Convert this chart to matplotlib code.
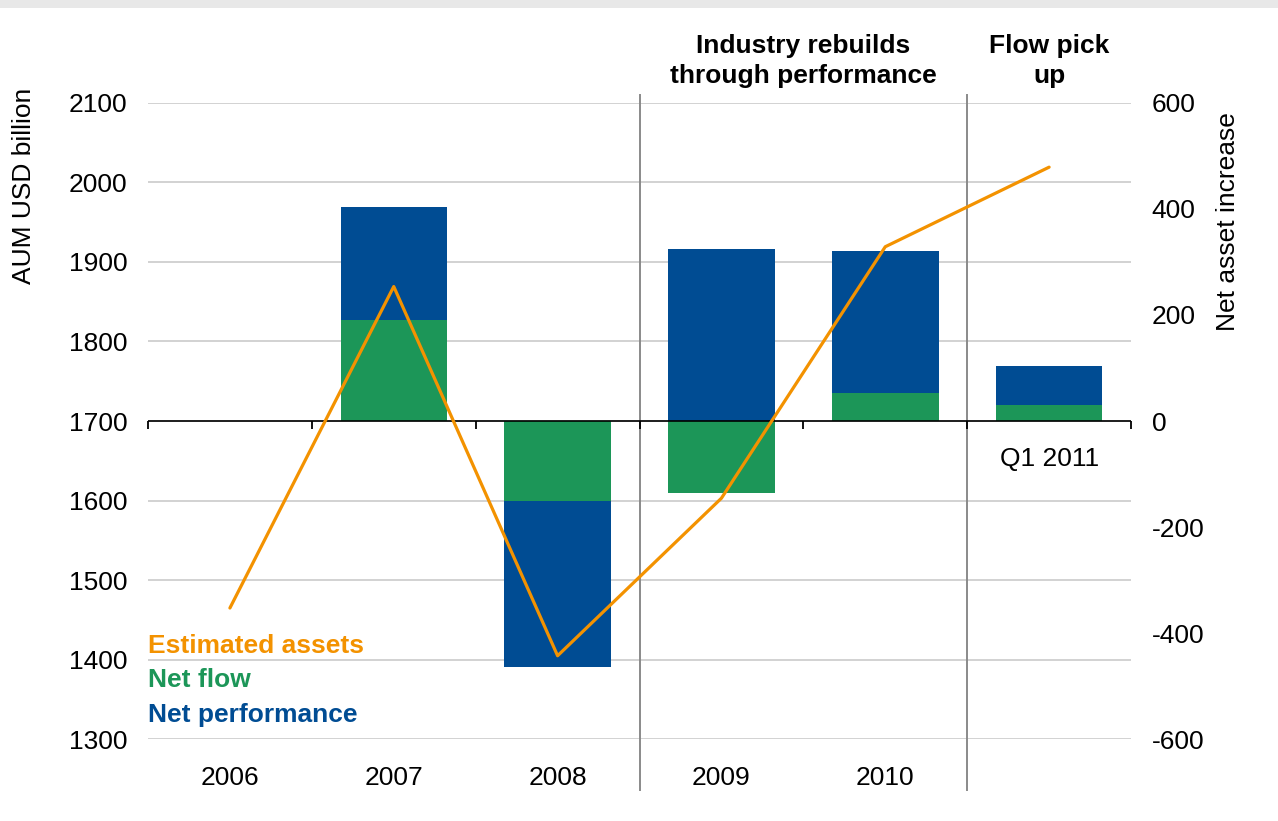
import numpy as np
import matplotlib
matplotlib.use("Agg")
import matplotlib.pyplot as plt
from matplotlib.patches import Rectangle

plt.rcParams['font.family'] = ['Liberation Sans', 'DejaVu Sans']
plt.rcParams['axes.unicode_minus'] = False

# Data
categories = ['2006', '2007', '2008', '2009', '2010', 'Q1 2011']
bottom_labels = ['2006', '2007', '2008', '2009', '2010', '']
estimated_assets = [1465, 1869, 1405, 1603, 1919, 2019]   # AUM USD billion (left axis)
net_flow = [0, 190, -151, -136, 53, 30]                   # Net asset increase (right axis)
net_performance = [0, 214, -312, 324, 268, 74]
left_ticks = [1300, 1400, 1500, 1600, 1700, 1800, 1900, 2000, 2100]
right_ticks = [-600, -400, -200, 0, 200, 400, 600]

BLUE = '#004C93'
GREEN = '#1C9658'
ORANGE = '#F39200'
GRID = '#C6C6C6'
SEP = '#8A8A8A'
FS = 19

fig = plt.figure(figsize=(12.78, 8.21), dpi=100)
fig.add_artist(Rectangle((0, 1 - 0.0097), 1, 0.0097, transform=fig.transFigure,
                         color='#E8E8E8', lw=0))
ax = fig.add_axes([0.1158, 0.0995, 0.7692, 0.7754])
ax2 = ax.twinx()

x = np.arange(len(categories))
ax.set_xlim(-0.5, len(categories) - 0.5)
ax.set_ylim(1300, 2100)
ax2.set_ylim(-600, 600)

for a in (ax, ax2):
    for s in a.spines.values():
        s.set_visible(False)

# Horizontal gridlines from the left scale
for v in left_ticks:
    ax.axhline(v, color=GRID, lw=1.1, zorder=1)

ax.set_yticks(left_ticks)
ax.tick_params(axis='y', length=0, pad=15, labelsize=FS)
ax2.set_yticks(right_ticks)
ax2.tick_params(axis='y', length=0, pad=15, labelsize=FS)

ax.set_xticks(x, bottom_labels)
ax.tick_params(axis='x', length=0, pad=19, labelsize=FS)

# Stacked bars: positives stack upward, negatives downward
flow = np.array(net_flow, dtype=float)
perf = np.array(net_performance, dtype=float)
perf_bottom = np.where(np.sign(perf) == np.sign(flow), flow, 0)
w = 0.65
ax2.bar(x, flow, width=w, color=GREEN, zorder=2)
ax2.bar(x, perf, width=w, bottom=perf_bottom, color=BLUE, zorder=2)

# Zero axis with ticks at category boundaries
ax2.axhline(0, color='black', lw=1.2, zorder=3)
bounds = np.arange(-0.5, len(categories), 1.0)
ax2.plot(bounds, np.zeros_like(bounds), ls='none', marker=3, markersize=6,
         mew=1.3, color='black', zorder=3, clip_on=False)

# Estimated assets line on the left scale, drawn above the bars
ax2.plot(x, estimated_assets, color=ORANGE, lw=2.3, zorder=4,
         transform=ax.transData, solid_capstyle='round')

# Period separators
for b in (2.5, 4.5):
    ax.axvline(b, ymin=-0.0796, ymax=1.012, color=SEP, lw=1.4, clip_on=False, zorder=5)

# Label for the last category, placed under the zero line
ax2.annotate(categories[-1], xy=(x[-1], 0), xytext=(0, -38), textcoords='offset pixels',
             ha='center', va='center', fontsize=FS)

# Period headings
hdr = ax.get_xaxis_transform()
ax.text(3.5, 1.066, 'Industry rebuilds\nthrough performance', transform=hdr,
        ha='center', va='center', fontsize=FS, fontweight='bold', linespacing=1.3)
ax.text(5, 1.066, 'Flow pick\nup', transform=hdr,
        ha='center', va='center', fontsize=FS, fontweight='bold', linespacing=1.3)

# Axis titles
ax.text(-0.1261, 0.869, 'AUM USD billion', transform=ax.transAxes, rotation=90,
        ha='center', va='center', fontsize=FS)
ax.text(1.0987, 0.814, 'Net asset increase', transform=ax.transAxes, rotation=90,
        ha='center', va='center', fontsize=FS)

# Series key
for ytxt, label, col in [(0.146, 'Estimated assets', ORANGE),
                         (0.093, 'Net flow', GREEN),
                         (0.038, 'Net performance', BLUE)]:
    ax.text(0.0, ytxt, label, transform=ax.transAxes, ha='left', va='center',
            fontsize=FS, fontweight='bold', color=col, zorder=6)

fig.savefig('out.png', dpi=100)
